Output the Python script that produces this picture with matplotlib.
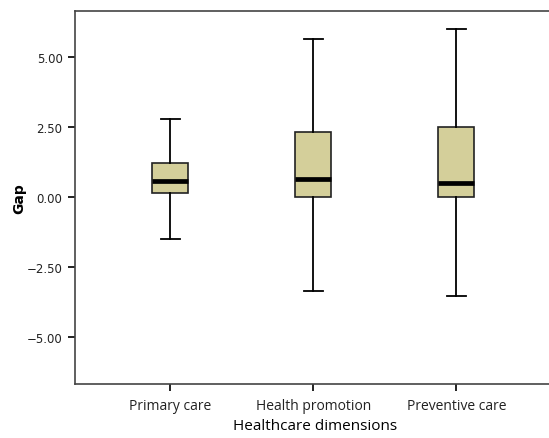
import matplotlib

matplotlib.use("Agg")
import matplotlib.pyplot as plt

categories = ["Primary care", "Health promotion", "Preventive care"]
whisker_low = [-1.50, -3.35, -3.52]
q1 = [0.14, 0.00, 0.00]
median = [0.57, 0.64, 0.49]
q3 = [1.21, 2.32, 2.49]
whisker_high = [2.79, 5.64, 5.98]
yticks = [-5.0, -2.5, 0.0, 2.5, 5.0]

stats = []
for i, name in enumerate(categories):
    stats.append(
        {
            "label": name,
            "whislo": whisker_low[i],
            "q1": q1[i],
            "med": median[i],
            "q3": q3[i],
            "whishi": whisker_high[i],
            "fliers": [],
        }
    )

fig = plt.figure(figsize=(5.49, 4.39), dpi=100)
# axes run past the right edge, like the original where the frame is cut off
ax = fig.add_axes([75 / 549, 1 - 385 / 439, 480 / 549, (385 - 12) / 439])

ax.bxp(
    stats,
    positions=range(len(categories)),
    widths=0.25,
    patch_artist=True,
    showfliers=False,
    boxprops=dict(facecolor="#d4cf9a", edgecolor="#222222", linewidth=1.2),
    medianprops=dict(color="black", linewidth=3.4, solid_capstyle="butt"),
    whiskerprops=dict(color="black", linewidth=1.3),
    capprops=dict(color="black", linewidth=1.3),
    capwidths=0.133,
)

ax.set_xlim(-0.664, 2.69)
ax.set_ylim(-6.68, 6.64)
ax.set_yticks(yticks)
ax.set_yticklabels([f"{v:.2f}".replace("-", "\u2212") for v in yticks], fontsize=8.5, color="#222222")
ax.set_xticks(range(len(categories)))
ax.set_xticklabels(categories, fontsize=10, family="Open Sans", color="#222222")
ax.tick_params(axis="both", direction="out", length=5, width=1.4, color="#222222")
ax.tick_params(axis="y", pad=4)
ax.tick_params(axis="x", pad=5)

ax.spines["right"].set_visible(False)
for side in ["left", "top", "bottom"]:
    ax.spines[side].set_linewidth(1.2)
    ax.spines[side].set_color("#444444")

ax.set_xlabel("Healthcare dimensions", fontsize=11, family="Open Sans", labelpad=4)
ax.set_ylabel("Gap", fontsize=10, fontweight="bold", labelpad=0)

fig.savefig("out.png", dpi=100)
